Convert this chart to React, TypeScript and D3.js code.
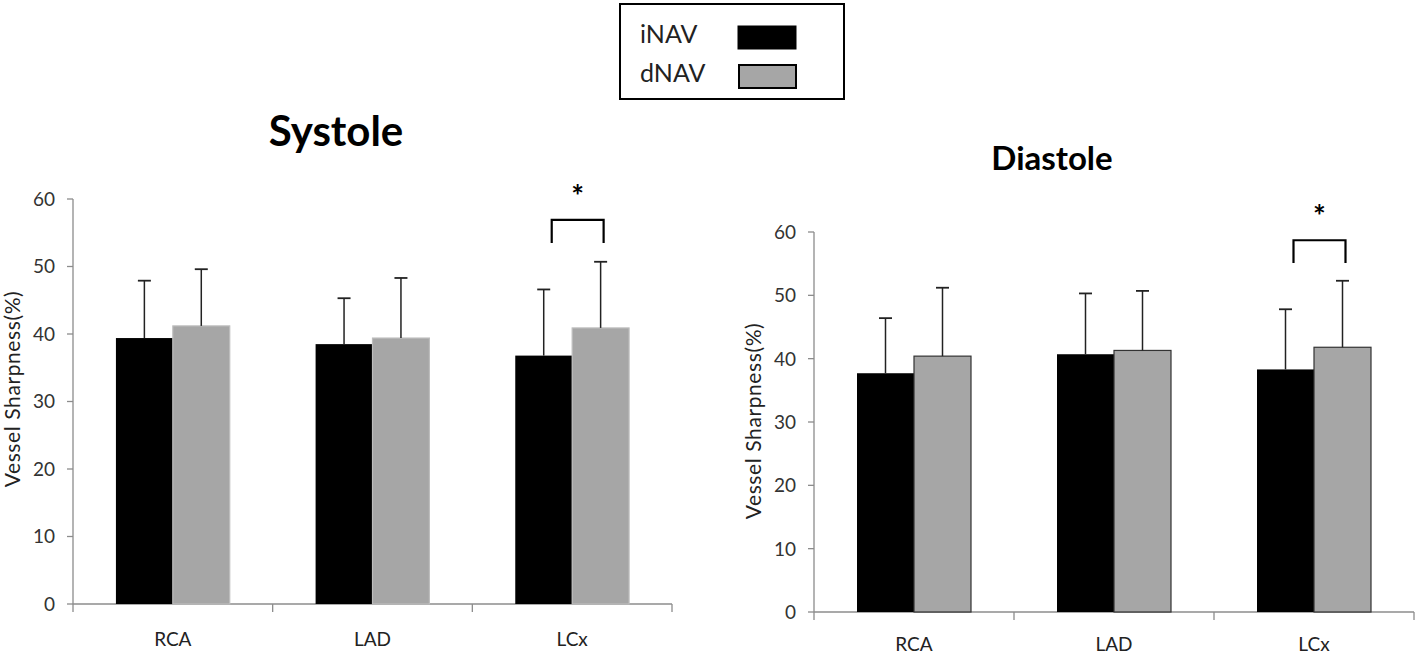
import React from "react";
import * as d3 from "d3";

const categories = ["RCA", "LAD", "LCx"];
const seriesNames = ["iNAV", "dNAV"];
const yTicks = [0, 10, 20, 30, 40, 50, 60];

const systoleINAV = [39.4, 38.5, 36.8];
const systoleINAVErr = [47.9, 45.3, 46.6];
const systoleDNAV = [41.2, 39.4, 40.9];
const systoleDNAVErr = [49.6, 48.3, 50.7];

const diastoleINAV = [37.7, 40.7, 38.3];
const diastoleINAVErr = [46.4, 50.3, 47.8];
const diastoleDNAV = [40.4, 41.3, 41.8];
const diastoleDNAVErr = [51.2, 50.7, 52.3];

const FONT = "Lato, 'Open Sans', sans-serif";
const colors = ["#000000", "#a6a6a6"];

type PanelProps = {
  title: string;
  titleSize: number;
  titleX: number;
  titleY: number;
  x0: number;
  x1: number;
  yTop: number;
  yBottom: number;
  inav: number[];
  inavErr: number[];
  dnav: number[];
  dnavErr: number[];
  grayStroke: string;
  sigTop: number;
  sigBottom: number;
  labelX: number;
  labelY: number;
  catLabelY: number;
};

function Panel(p: PanelProps) {
  const x = d3.scaleBand<string>().domain(categories).range([p.x0, p.x1]).paddingInner(0.43).paddingOuter(0.215);
  const outer = d3.scaleBand<string>().domain(categories).range([p.x0, p.x1]);
  const sub = d3.scaleBand<string>().domain(seriesNames).range([0, x.bandwidth()]);
  const y = d3.scaleLinear().domain([0, 60]).range([p.yBottom, p.yTop]);
  const vals = [p.inav, p.dnav];
  const errs = [p.inavErr, p.dnavErr];
  const axisColor = "#8c8c8c";
  const boundaries = [p.x0, ...categories.map((c) => (outer(c) as number) + outer.bandwidth())];
  const sigCat = "LCx";
  const bx = x(sigCat) as number;
  const blackC = bx + (sub("iNAV") as number) + sub.bandwidth() / 2;
  const grayC = bx + (sub("dNAV") as number) + sub.bandwidth() / 2;
  const bL = blackC + 8;
  const bR = grayC + 3;
  return (
    <g>
      <text x={p.titleX} y={p.titleY} textAnchor="middle" fontFamily={FONT} fontWeight="bold" fontSize={p.titleSize} fill="#000">
        {p.title}
      </text>
      <line x1={p.x0} x2={p.x0} y1={p.yTop} y2={p.yBottom + 8} stroke={axisColor} strokeWidth={1.3} />
      <line x1={p.x0} x2={p.x1} y1={p.yBottom} y2={p.yBottom} stroke={axisColor} strokeWidth={1.3} />
      {boundaries.slice(1).map((b, i) => (
        <line key={i} x1={b} x2={b} y1={p.yBottom} y2={p.yBottom + 8} stroke={axisColor} strokeWidth={1.3} />
      ))}
      {yTicks.map((t) => (
        <g key={t}>
          <line x1={p.x0 - 6} x2={p.x0} y1={y(t)} y2={y(t)} stroke={axisColor} strokeWidth={1.3} />
          <text x={p.x0 - 18} y={y(t)} dy="0.36em" textAnchor="end" fontFamily={FONT} fontSize={19} fill="#333">
            {t}
          </text>
        </g>
      ))}
      <text
        transform={`translate(${p.labelX},${p.labelY}) rotate(-90)`}
        textAnchor="middle"
        fontFamily={FONT}
        fontSize={21}
        letterSpacing={0.6}
        fill="#222"
      >
        Vessel Sharpness(%)
      </text>
      {categories.map((c) => (
        <text key={c} x={(outer(c) as number) + outer.bandwidth() / 2} y={p.catLabelY} textAnchor="middle" fontFamily={FONT} fontSize={19} fill="#222">
          {c}
        </text>
      ))}
      {categories.map((c, ci) =>
        seriesNames.map((s, si) => {
          const bxx = (x(c) as number) + (sub(s) as number);
          const v = vals[si][ci];
          const e = errs[si][ci];
          const cx = bxx + sub.bandwidth() / 2;
          return (
            <g key={c + s}>
              <rect
                x={bxx}
                y={y(v)}
                width={sub.bandwidth()}
                height={y(0) - y(v)}
                fill={colors[si]}
                stroke={si === 1 ? p.grayStroke : "none"}
                strokeWidth={1.2}
              />
              <line x1={cx} x2={cx} y1={y(v)} y2={y(e)} stroke="#222" strokeWidth={1.5} />
              <line x1={cx - 6.5} x2={cx + 6.5} y1={y(e)} y2={y(e)} stroke="#222" strokeWidth={1.8} />
            </g>
          );
        })
      )}
      <path
        d={`M${bL},${y(p.sigBottom)} L${bL},${y(p.sigTop)} L${bR},${y(p.sigTop)} L${bR},${y(p.sigBottom)}`}
        fill="none"
        stroke="#000"
        strokeWidth={2.2}
      />
      <text x={(bL + bR) / 2} y={y(p.sigTop) - 13} textAnchor="middle" fontFamily={FONT} fontWeight="bold" fontSize={30} fill="#000">
        *
      </text>
    </g>
  );
}

export default function App() {
  return (
    <svg width={1418} height={657} style={{ position: "absolute", left: 0, top: 0, background: "#fff" }}>
      <rect x={0} y={0} width={1418} height={657} fill="#fff" />
      <rect x={620} y={4} width={224} height={95} fill="#fff" stroke="#000" strokeWidth={2} />
      <text x={640} y={43} fontFamily={FONT} fontSize={25} fill="#222">iNAV</text>
      <text x={640} y={82} fontFamily={FONT} fontSize={25} fill="#222">dNAV</text>
      <rect x={738} y={26} width={58} height={23} fill={colors[0]} stroke="#000" strokeWidth={1} />
      <rect x={739} y={65} width={57} height={23} fill={colors[1]} stroke="#000" strokeWidth={2} />
      <Panel
        title="Systole"
        titleSize={42}
        titleX={336}
        titleY={146}
        x0={73}
        x1={672}
        yTop={199}
        yBottom={604}
        inav={systoleINAV}
        inavErr={systoleINAVErr}
        dnav={systoleDNAV}
        dnavErr={systoleDNAVErr}
        grayStroke="#bdbdbd"
        sigTop={56.9}
        sigBottom={53.5}
        labelX={20}
        labelY={389}
        catLabelY={646}
      />
      <Panel
        title="Diastole"
        titleSize={33}
        titleX={1052}
        titleY={170}
        x0={814}
        x1={1414}
        yTop={232}
        yBottom={612}
        inav={diastoleINAV}
        inavErr={diastoleINAVErr}
        dnav={diastoleDNAV}
        dnavErr={diastoleDNAVErr}
        grayStroke="#333"
        sigTop={58.7}
        sigBottom={55.1}
        labelX={761}
        labelY={421}
        catLabelY={651}
      />
    </svg>
  );
}
